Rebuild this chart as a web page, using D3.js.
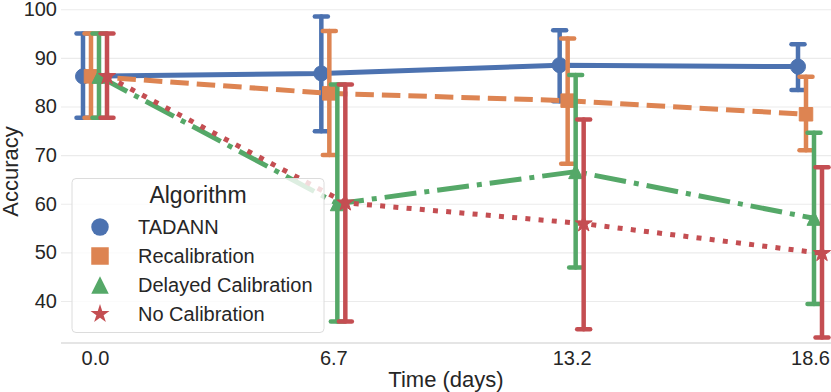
<!DOCTYPE html>
<html>
<head>
<meta charset="utf-8">
<script src="https://cdn.jsdelivr.net/npm/d3@7"></script>
<style>
  html, body { margin: 0; padding: 0; background: #fff; }
  svg { display: block; }
  text { font-family: "Liberation Sans", Arial, sans-serif; fill: #262626; }
</style>
</head>
<body>
<svg id="chart" width="831" height="392"></svg>
<script>
// ---- data ----
const categories = ["0.0", "6.7", "13.2", "18.6"];
const seriesNames = ["TADANN", "Recalibration", "Delayed Calibration", "No Calibration"];
const tadannMean  = [86.2, 86.8, 88.5, 88.2];
const tadannLow   = [77.7, 74.9, 81.1, 83.4];
const tadannHigh  = [95.0, 98.5, 95.7, 92.8];
const recalMean   = [86.2, 82.7, 81.2, 78.4];
const recalLow    = [77.7, 70.0, 68.2, 71.0];
const recalHigh   = [95.0, 95.5, 94.0, 86.1];
const delayedMean = [86.2, 60.0, 66.6, 57.0];
const delayedLow  = [77.7, 35.8, 46.9, 39.4];
const delayedHigh = [95.0, 84.5, 86.5, 74.6];
const noCalMean   = [86.2, 60.2, 55.9, 49.8];
const noCalLow    = [77.7, 35.8, 34.2, 32.5];
const noCalHigh   = [95.0, 84.5, 77.3, 67.5];
const yTicks = [40, 50, 60, 70, 80, 90, 100];

const colors = ["#4C72B0", "#DD8452", "#55A868", "#C44E52"];
const dashes = [null, "18.5,8", "32,8,5,8", "5,8.25"];
const markerTypes = ["circle", "square", "triangle", "star"];

const series = [
  {mean: tadannMean, low: tadannLow, high: tadannHigh},
  {mean: recalMean, low: recalLow, high: recalHigh},
  {mean: delayedMean, low: delayedLow, high: delayedHigh},
  {mean: noCalMean, low: noCalLow, high: noCalHigh}
].map((s, i) => ({...s, name: seriesNames[i], color: colors[i], dash: dashes[i], marker: markerTypes[i]}));

const svg = d3.select("#chart");
const W = 831, H = 392;
const plotLeft = 61, plotRight = 831, plotBottom = 343;

const x = d3.scalePoint().domain(categories).range([95, 810]);
const y = d3.scaleLinear().domain([31.36, 101.9]).range([plotBottom, 0]);
const dodge = d3.scalePoint().domain(seriesNames).range([-12, 12]);

// marker path generator
function markerPath(type, s) {
  const p = d3.path();
  if (type === "circle") {
    p.arc(0, 0, s / 2, 0, 2 * Math.PI);
  } else if (type === "square") {
    p.rect(-s / 2, -s / 2, s, s);
  } else if (type === "triangle") {
    const h = s / 2;
    p.moveTo(0, -h); p.lineTo(h, h); p.lineTo(-h, h); p.closePath();
  } else if (type === "star") {
    const R = s / 2, r = R * 0.382;
    for (let k = 0; k < 10; k++) {
      const a = -Math.PI / 2 + k * Math.PI / 5;
      const rr = k % 2 === 0 ? R : r;
      const px = rr * Math.cos(a), py = rr * Math.sin(a);
      if (k === 0) p.moveTo(px, py); else p.lineTo(px, py);
    }
    p.closePath();
  }
  return p.toString();
}
const plotMarkerSize = {circle: 15, square: 13.5, triangle: 14, star: 18};
const legendMarkerSize = {circle: 17.5, square: 17.5, triangle: 17.5, star: 20};

// grid
const yAxis = d3.axisLeft(y).tickValues(yTicks).tickSize(-(plotRight - plotLeft)).tickPadding(4).tickFormat(d3.format("d"));
const gy = svg.append("g").attr("transform", `translate(${plotLeft},0)`).call(yAxis);
gy.select(".domain").remove();
gy.selectAll(".tick line").attr("stroke", "#ebebeb").attr("stroke-width", 1.2);
gy.selectAll(".tick text").style("font-size", "20px").attr("fill", "#262626").attr("x", -4);

// x axis
const xAxis = d3.axisBottom(x).tickSize(0).tickPadding(8);
const gx = svg.append("g").attr("transform", `translate(0,${plotBottom})`).call(xAxis);
gx.select(".domain").remove();
gx.selectAll(".tick text").style("font-size", "20px").attr("fill", "#262626");
svg.append("line").attr("x1", plotLeft).attr("x2", plotRight).attr("y1", plotBottom).attr("y2", plotBottom)
  .attr("stroke", "#dcdcdc").attr("stroke-width", 1.3);

// axis labels
svg.append("text").attr("x", (plotLeft + plotRight) / 2).attr("y", 387).attr("text-anchor", "middle")
  .style("font-size", "22px").text("Time (days)");
svg.append("text").attr("transform", `translate(18,${plotBottom / 2}) rotate(-90)`).attr("text-anchor", "middle")
  .style("font-size", "22px").text("Accuracy");

// series
series.forEach(s => {
  const g = svg.append("g");
  const off = dodge(s.name);
  const px = i => x(categories[i]) + off;
  // error bars
  categories.forEach((c, i) => {
    const eg = g.append("g").attr("stroke", s.color).attr("stroke-width", 4.5).attr("stroke-linecap", "round");
    eg.append("line").attr("x1", px(i)).attr("x2", px(i)).attr("y1", y(s.low[i])).attr("y2", y(s.high[i]));
    eg.append("line").attr("x1", px(i) - 6.5).attr("x2", px(i) + 6.5).attr("y1", y(s.low[i])).attr("y2", y(s.low[i]));
    eg.append("line").attr("x1", px(i) - 6.5).attr("x2", px(i) + 6.5).attr("y1", y(s.high[i])).attr("y2", y(s.high[i]));
  });
  // line
  const line = d3.line().x((d, i) => px(i)).y(d => y(d));
  g.append("path").datum(s.mean).attr("d", line).attr("fill", "none")
    .attr("stroke", s.color).attr("stroke-width", 5)
    .attr("stroke-dasharray", s.dash).attr("stroke-linecap", "butt");
  // markers
  g.selectAll("path.mk").data(s.mean).join("path").attr("class", "mk")
    .attr("transform", (d, i) => `translate(${px(i)},${y(d)})`)
    .attr("d", markerPath(s.marker, plotMarkerSize[s.marker]))
    .attr("fill", s.color).attr("stroke", s.color).attr("stroke-width", 1);
});

// legend
const lg = svg.append("g");
lg.append("rect").attr("x", 72).attr("y", 178.5).attr("width", 252).attr("height", 154).attr("rx", 4)
  .attr("fill", "#fff").attr("fill-opacity", 0.8).attr("stroke", "#dcdcdc").attr("stroke-width", 1);
lg.append("text").attr("x", 198).attr("y", 203).attr("text-anchor", "middle").style("font-size", "23px").text("Algorithm");
series.forEach((s, i) => {
  const cy = 227 + i * 29;
  lg.append("path").attr("transform", `translate(100,${cy})`)
    .attr("d", markerPath(s.marker, legendMarkerSize[s.marker])).attr("fill", s.color);
  lg.append("text").attr("x", 138).attr("y", cy + 7).style("font-size", "20px").text(s.name);
});
</script>
</body>
</html>
